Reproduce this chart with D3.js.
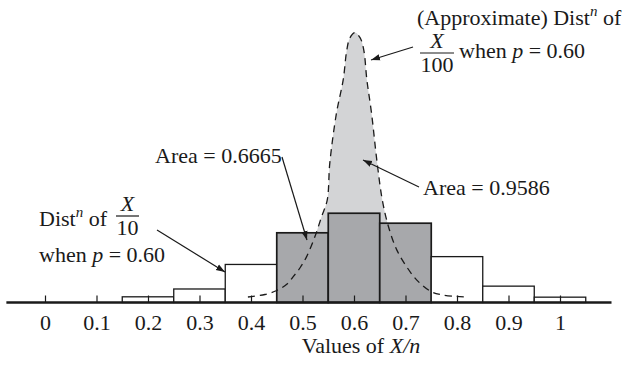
<!DOCTYPE html>
<html>
<head>
<meta charset="utf-8">
<script src="https://cdn.jsdelivr.net/npm/d3@7"></script>
<style>
  html, body { margin: 0; padding: 0; background: #fff; }
  svg { display: block; }
  text { font-family: "Liberation Serif", "Times New Roman", serif; font-size: 22px; fill: #1a1a1a; }
</style>
</head>
<body>
<svg id="chart" width="640" height="367"></svg>
<script>
// ---- data ----
const xTicks = [0, 0.1, 0.2, 0.3, 0.4, 0.5, 0.6, 0.7, 0.8, 0.9, 1];
const tickLabels = ["0", "0.1", "0.2", "0.3", "0.4", "0.5", "0.6", "0.7", "0.8", "0.9", "1"];
// Dist of X/10, p = 0.60 (probabilities)
const barCenters = [0, 0.1, 0.2, 0.3, 0.4, 0.5, 0.6, 0.7, 0.8, 0.9, 1];
const barProbs   = [0, 0, 0.016, 0.038, 0.107, 0.196, 0.251, 0.223, 0.129, 0.046, 0.015];
const shadedBars = [0.5, 0.6, 0.7];
const binWidth = 0.1;
// (Approximate) density of X/100
const curveX = [0.394, 0.427, 0.450, 0.470, 0.482, 0.495, 0.508, 0.524, 0.537, 0.548, 0.553, 0.566, 0.579, 0.586, 0.592, 0.602,
                0.612, 0.619, 0.625, 0.634, 0.645, 0.655, 0.667, 0.683, 0.702, 0.722, 0.748, 0.767, 0.799, 0.821];
const curveY = [0.155, 0.225, 0.337, 0.52, 0.726, 0.97, 1.29, 1.85, 2.41, 2.88, 3.92, 5.33, 6.26, 7.10, 7.44, 7.59,
                7.44, 7.10, 6.26, 5.33, 3.92, 2.88, 2.13, 1.48, 1.01, 0.63, 0.32, 0.225, 0.17, 0.155];
const shadeRange = [0.45, 0.75];
const axisExtent = [-0.075, 1.1];

// ---- scales ----
const svg = d3.select("#chart");
const x = d3.scaleLinear().domain([0, 1]).range([45, 560]);
const y = d3.scaleLinear().domain([0, 8]).range([302.5, 302.5 - 8 * 35.56]);

// ---- light gray area under curve (0.45 - 0.75) ----
const curvePts = curveX.map((v, i) => [v, curveY[i]]);
svg.append("clipPath").attr("id", "shadeClip")
  .append("rect")
  .attr("x", x(shadeRange[0])).attr("y", 0)
  .attr("width", x(shadeRange[1]) - x(shadeRange[0])).attr("height", y(0));
svg.append("path")
  .datum(curvePts)
  .attr("clip-path", "url(#shadeClip)")
  .attr("fill", "#d3d4d6")
  .attr("d", d3.area().x(d => x(d[0])).y0(y(0)).y1(d => y(d[1])).curve(d3.curveCatmullRom));

// ---- bars ----
const bars = barCenters.map((c, i) => ({ c, p: barProbs[i] })).filter(d => d.p > 0);
svg.append("g").selectAll("rect").data(bars).join("rect")
  .attr("x", d => x(d.c - binWidth / 2))
  .attr("width", d => x(d.c + binWidth / 2) - x(d.c - binWidth / 2))
  .attr("y", d => y(d.p / binWidth))
  .attr("height", d => y(0) - y(d.p / binWidth))
  .attr("fill", d => shadedBars.includes(d.c) ? "#a7a8ab" : "#fff")
  .attr("stroke", "#1a1a1a")
  .attr("stroke-width", d => shadedBars.includes(d.c) ? 1.7 : 1.3);

// ---- axis ----
const axis = d3.axisBottom(x)
  .tickValues(xTicks)
  .tickFormat((d, i) => tickLabels[i])
  .tickSizeInner(-7).tickSizeOuter(0).tickPadding(12);
const gAxis = svg.append("g").attr("transform", `translate(0,${y(0)})`).call(axis);
gAxis.select(".domain").remove();
gAxis.selectAll(".tick line").attr("stroke", "#1a1a1a").attr("stroke-width", 1.2);
gAxis.selectAll(".tick text").attr("font-size", 22).attr("font-family", null).attr("fill", "#1a1a1a");
svg.append("line")
  .attr("x1", x(axisExtent[0])).attr("x2", x(axisExtent[1]))
  .attr("y1", y(0)).attr("y2", y(0))
  .attr("stroke", "#1a1a1a").attr("stroke-width", 2.6);

// ---- dashed curve ----
svg.append("path")
  .datum(curvePts)
  .attr("fill", "none")
  .attr("stroke", "#1a1a1a")
  .attr("stroke-width", 1.3)
  .attr("stroke-dasharray", "7,5")
  .attr("d", d3.line().x(d => x(d[0])).y(d => y(d[1])).curve(d3.curveCatmullRom));

// ---- x title ----
const title = svg.append("text").attr("x", 361).attr("y", 353).attr("text-anchor", "middle");
title.append("tspan").text("Values of ");
title.append("tspan").attr("font-style", "italic").text("X/n");

// ---- arrows ----
svg.append("defs").append("marker")
  .attr("id", "ah").attr("viewBox", "0 0 10 10").attr("refX", 10).attr("refY", 5)
  .attr("markerWidth", 9).attr("markerHeight", 9).attr("markerUnits", "userSpaceOnUse")
  .attr("orient", "auto")
  .append("path").attr("d", "M0,1.5 L10,5 L0,8.5 Z").attr("fill", "#1a1a1a");

const arrows = [
  { from: [0.7146, 7.185], to: [0.633, 6.82] },
  { from: [0.4602, 4.092], to: [0.5087, 1.758] },
  { from: [0.7262, 3.248], to: [0.6175, 4.007] },
  { from: [0.2175, 2.039], to: [0.3495, 0.858] }
];
svg.append("g").selectAll("line").data(arrows).join("line")
  .attr("x1", d => x(d.from[0])).attr("y1", d => y(d.from[1]))
  .attr("x2", d => x(d.to[0])).attr("y2", d => y(d.to[1]))
  .attr("stroke", "#1a1a1a").attr("stroke-width", 1.2)
  .attr("marker-end", "url(#ah)");

// ---- annotations ----
function distText(xp, yp, prefix) {
  const t = svg.append("text").attr("x", xp).attr("y", yp);
  t.append("tspan").text(prefix + "Dist");
  t.append("tspan").attr("font-style", "italic").attr("font-size", 15).attr("dy", -9).text("n");
  t.append("tspan").attr("dy", 9).text(" of");
}
function whenText(xp, yp) {
  const t = svg.append("text").attr("x", xp).attr("y", yp);
  t.append("tspan").text("when ");
  t.append("tspan").attr("font-style", "italic").text("p");
  t.append("tspan").text(" = 0.60");
}
function fraction(cx, top, num, den, lineHalf) {
  svg.append("text").attr("x", cx).attr("y", top).attr("text-anchor", "middle")
    .attr("font-style", "italic").text(num);
  svg.append("line").attr("x1", cx - lineHalf).attr("x2", cx + lineHalf)
    .attr("y1", top + 5).attr("y2", top + 5).attr("stroke", "#1a1a1a").attr("stroke-width", 1.2);
  svg.append("text").attr("x", cx).attr("y", top + 24).attr("text-anchor", "middle").text(den);
}

distText(417, 25, "(Approximate) ");
fraction(437, 48, "X", "100", 17);
whenText(459, 58);

svg.append("text").attr("x", 155).attr("y", 163).text("Area = 0.6665");
svg.append("text").attr("x", 423).attr("y", 195).text("Area = 0.9586");

distText(39, 226, "");
fraction(127.5, 211, "X", "10", 11.5);
whenText(39, 262);
</script>
</body>
</html>
